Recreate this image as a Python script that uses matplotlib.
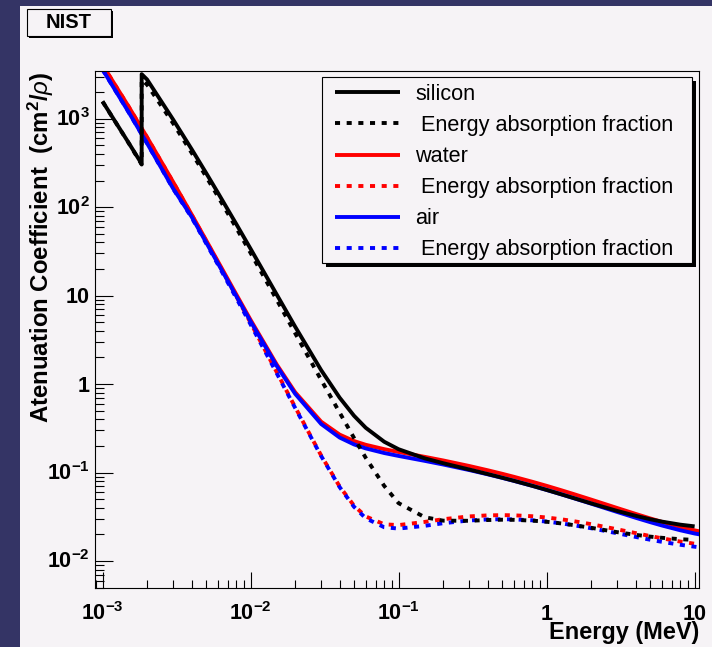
import numpy as np
import matplotlib
matplotlib.use("Agg")
import matplotlib.pyplot as plt
from matplotlib.patches import Rectangle
from matplotlib.lines import Line2D
from matplotlib.ticker import FixedLocator, FuncFormatter, LogLocator, NullFormatter
import matplotlib.transforms as mtrans

plt.rcParams['font.family'] = ['Liberation Sans', 'DejaVu Sans']
plt.rcParams['mathtext.fontset'] = 'custom'
plt.rcParams['mathtext.rm'] = 'Liberation Sans'
plt.rcParams['mathtext.bf'] = 'Liberation Sans:bold'
plt.rcParams['mathtext.it'] = 'Liberation Sans:italic'

# ---------------- data (NIST, cm^2/g) ----------------
energy = [1.0e-3, 1.5e-3, 2.0e-3, 3.0e-3, 4.0e-3, 5.0e-3, 6.0e-3, 8.0e-3,
          1.0e-2, 1.5e-2, 2.0e-2, 3.0e-2, 4.0e-2, 5.0e-2, 6.0e-2, 8.0e-2,
          1.0e-1, 1.5e-1, 2.0e-1, 3.0e-1, 4.0e-1, 5.0e-1, 6.0e-1, 8.0e-1,
          1.0, 1.25, 1.5, 2.0, 3.0, 4.0, 5.0, 6.0, 8.0, 10.0, 15.0]

water_mu = [4078, 1376, 617.3, 192.9, 82.78, 42.58, 24.64, 10.37,
            5.329, 1.673, 0.8096, 0.3756, 0.2683, 0.2269, 0.2059, 0.1837,
            0.1707, 0.1505, 0.1370, 0.1186, 0.1061, 0.09687, 0.08956, 0.07865,
            0.07072, 0.06323, 0.05754, 0.04942, 0.03969, 0.03403, 0.03031, 0.02770, 0.02429, 0.02219, 0.01941]
water_en = [4065, 1372, 615.2, 191.7, 81.91, 41.88, 24.05, 9.915,
            4.944, 1.374, 0.5503, 0.1557, 0.06947, 0.04223, 0.03190, 0.02597,
            0.02546, 0.02764, 0.02967, 0.03192, 0.03279, 0.03299, 0.03284, 0.03206,
            0.03103, 0.02965, 0.02833, 0.02608, 0.02281, 0.02066, 0.01915, 0.01806, 0.01658, 0.01566, 0.01441]

air_mu = [3606, 1191, 527.9, 162.5, 77.88, 40.27, 23.41, 9.921,
          5.120, 1.614, 0.7779, 0.3538, 0.2485, 0.2080, 0.1875, 0.1662,
          0.1541, 0.1356, 0.1233, 0.1067, 0.09549, 0.08712, 0.08055, 0.07074,
          0.06358, 0.05687, 0.05175, 0.04447, 0.03581, 0.03079, 0.02751, 0.02522, 0.02225, 0.02045, 0.01810]
air_en = [3599, 1188, 526.2, 161.4, 76.36, 39.31, 22.70, 9.446,
          4.742, 1.334, 0.5389, 0.1537, 0.06833, 0.04098, 0.03041, 0.02407,
          0.02325, 0.02496, 0.02672, 0.02872, 0.02949, 0.02966, 0.02953, 0.02882,
          0.02789, 0.02666, 0.02547, 0.02345, 0.02057, 0.01870, 0.01740, 0.01647, 0.01525, 0.01450, 0.01334]

si_energy = [1.0e-3, 1.5e-3, 1.8389e-3, 1.8389e-3, 2.0e-3, 3.0e-3, 4.0e-3, 5.0e-3, 6.0e-3, 8.0e-3,
             1.0e-2, 1.5e-2, 2.0e-2, 3.0e-2, 4.0e-2, 5.0e-2, 6.0e-2, 8.0e-2,
             1.0e-1, 1.5e-1, 2.0e-1, 3.0e-1, 4.0e-1, 5.0e-1, 6.0e-1, 8.0e-1,
             1.0, 1.25, 1.5, 2.0, 3.0, 4.0, 5.0, 6.0, 8.0, 10.0]
si_mu = [1570, 535.5, 309.2, 3192, 2777, 978.4, 452.9, 245.0, 147.0, 64.68,
         33.89, 10.34, 4.464, 1.436, 0.7012, 0.4385, 0.3207, 0.2228,
         0.1835, 0.1448, 0.1275, 0.1082, 0.09614, 0.08748, 0.08077, 0.07082,
         0.06361, 0.05688, 0.05183, 0.04480, 0.03678, 0.03240, 0.02967, 0.02788, 0.02574, 0.02462]
si_en = [1567, 533.1, 303.5, 2763, 2429, 886.4, 411.9, 223.0, 133.6, 58.51,
         30.44, 9.029, 3.770, 1.115, 0.4757, 0.2461, 0.1468, 0.07057,
         0.04508, 0.03127, 0.02857, 0.02847, 0.02905, 0.02928, 0.02919, 0.02859,
         0.02776, 0.02660, 0.02554, 0.02371, 0.02118, 0.01974, 0.01886, 0.01829, 0.01763, 0.01731]

legend_labels = ["silicon", " Energy absorption fraction", "water",
                 " Energy absorption fraction", "air", " Energy absorption fraction"]
x_ticks = [1e-3, 1e-2, 1e-1, 1, 10]
y_ticks = [1e-2, 1e-1, 1, 10, 1e2, 1e3]

# ---------------- figure ----------------
W, H = 712, 647
DPI = 100
BG = '#f6f3f6'
DARK = '#343465'
fig = plt.figure(figsize=(W / DPI, H / DPI), dpi=DPI, facecolor=DARK)

def fx(x): return x / W
def fy(y): return 1 - y / H

fig.add_artist(Rectangle((fx(20), 0), 1 - fx(20), fy(6), transform=fig.transFigure,
                         facecolor=BG, edgecolor='none', zorder=0))

L, R, T, B = 95.3, 699.0, 70.5, 588.0
ax = fig.add_axes([fx(L), fy(B), (R - L) / W, (B - T) / H])
ax.set_facecolor(BG)
ax.set_xscale('log')
ax.set_yscale('log')
ax.set_xlim(8.94e-4, 10.7)
ax.set_ylim(4.95e-3, 3510)

LW = 2.8
DOT = (0, (1.3, 1.7))
ax.plot(energy, water_mu, color='#ff0000', lw=LW, solid_capstyle='butt')
ax.plot(energy, water_en, color='#ff0000', lw=LW, ls=DOT, dash_capstyle='butt')
ax.plot(energy, air_mu, color='#0000ff', lw=LW, solid_capstyle='butt')
ax.plot(energy, air_en, color='#0000ff', lw=LW, ls=DOT, dash_capstyle='butt')
ax.plot(si_energy, si_mu, color='black', lw=LW, solid_capstyle='butt')
ax.plot(si_energy, si_en, color='black', lw=LW, ls=DOT, dash_capstyle='butt')

for s in ax.spines.values():
    s.set_linewidth(0.8)
    s.set_color('black')

def fmt(v, pos=None):
    e = int(round(np.log10(v)))
    if e == 0:
        return r'$\mathbf{1}$'
    if e == 1:
        return r'$\mathbf{10}$'
    return r'$\mathbf{10^{%d}}$' % e

ax.xaxis.set_major_locator(FixedLocator(x_ticks))
ax.yaxis.set_major_locator(FixedLocator(y_ticks))
ax.xaxis.set_major_formatter(FuncFormatter(fmt))
ax.yaxis.set_major_formatter(FuncFormatter(fmt))
ax.xaxis.set_minor_locator(LogLocator(base=10, subs=np.arange(2, 10), numticks=50))
ax.yaxis.set_minor_locator(LogLocator(base=10, subs=np.arange(2, 10), numticks=50))
ax.xaxis.set_minor_formatter(NullFormatter())
ax.yaxis.set_minor_formatter(NullFormatter())

ax.tick_params(axis='x', which='major', direction='in', length=11.5, width=0.8,
               labelsize=15.5, pad=23.4, colors='black')
ax.tick_params(axis='x', which='minor', direction='in', length=5.8, width=0.8)
ax.tick_params(axis='y', which='major', direction='in', length=13, width=0.8,
               labelsize=15.5, pad=3.8)
ax.tick_params(axis='y', which='minor', direction='in', length=6.5, width=0.8)

fig.canvas.draw()
for t in ax.xaxis.get_major_ticks():
    t.label1.set_verticalalignment('baseline')
yoff = mtrans.ScaledTranslation(0, -7.5 / DPI, fig.dpi_scale_trans)
for t in ax.yaxis.get_major_ticks():
    t.label1.set_verticalalignment('baseline')
    t.label1.set_transform(t.label1.get_transform() + yoff)

# axis titles
fig.text(fx(41), fy(72), r'Atenuation Coefficient  (cm$^{\mathbf{2}}$/$\rho$)',
         rotation=90, ha='center', va='top', fontsize=17.3, fontweight='bold')
fig.text(fx(699), fy(639), 'Energy (MeV)', ha='right', va='baseline',
         fontsize=16.9, fontweight='bold')

# NIST title box
fig.add_artist(Rectangle((fx(29), fy(38)), (110.7 - 27) / W, (36 - 9.3) / H,
                         transform=fig.transFigure, facecolor='black', edgecolor='none', zorder=5))
fig.add_artist(Rectangle((fx(27), fy(36)), (110.7 - 27) / W, (36 - 9.3) / H,
                         transform=fig.transFigure, facecolor=BG, edgecolor='black', lw=0.8, zorder=6))
fig.text(fx(69), fy(22.7), 'NIST', ha='center', va='center', fontsize=14.5,
         fontweight='bold', zorder=7)

# legend
lx0, ly0, lx1, ly1 = 322, 77.3, 692, 263.3
fig.add_artist(Rectangle((fx(lx0 + 4), fy(ly1 + 4)), (lx1 - lx0) / W, (ly1 - ly0) / H,
                         transform=fig.transFigure, facecolor='black', edgecolor='none', zorder=5))
fig.add_artist(Rectangle((fx(lx0), fy(ly1)), (lx1 - lx0) / W, (ly1 - ly0) / H,
                         transform=fig.transFigure, facecolor=BG, edgecolor='black', lw=0.8, zorder=6))
colors = ['black', 'black', '#ff0000', '#ff0000', '#0000ff', '#0000ff']
styles = ['-', DOT, '-', DOT, '-', DOT]
rows = [92.3, 123.3, 154.8, 185.8, 217.0, 248.0]
for lab, c, st, yy in zip(legend_labels, colors, styles, rows):
    fig.add_artist(Line2D([fx(335), fx(400)], [fy(yy), fy(yy)], transform=fig.transFigure,
                          color=c, lw=LW, ls=st, solid_capstyle='butt', dash_capstyle='butt', zorder=7))
    fig.text(fx(415), fy(yy + 7.5), lab, ha='left', va='baseline', fontsize=15.6, zorder=7)

fig.savefig('out.png', dpi=DPI, facecolor=DARK)
